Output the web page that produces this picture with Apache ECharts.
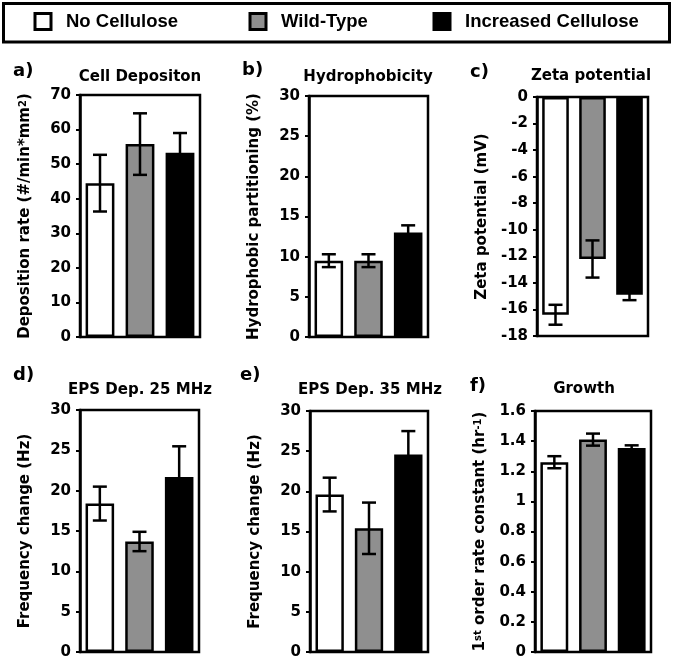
<!DOCTYPE html>
<html>
<head>
<meta charset="utf-8">
<script src="https://cdn.jsdelivr.net/npm/echarts@6/dist/echarts.min.js"></script>
<style>
html,body{margin:0;padding:0;background:#fff;}
#chart{width:675px;height:662px;}
</style>
</head>
<body>
<div id="chart"></div>
<script>
// ---- data ----
const categories = ['No Cellulose', 'Wild-Type', 'Increased Cellulose'];
const panelLetters = ['a)', 'b)', 'c)', 'd)', 'e)', 'f)'];
const panelTitles = ['Cell Depositon', 'Hydrophobicity', 'Zeta potential', 'EPS Dep. 25 MHz', 'EPS Dep. 35 MHz', 'Growth'];
const axisNames = [
  'Deposition rate (#/min*mm{sup|2})',
  'Hydrophobic partitioning (%)',
  'Zeta potential (mV)',
  'Frequency change (Hz)',
  'Frequency change (Hz)',
  '1{sup|st} order rate constant (hr{sup|-1})'
];
const yMin = [0, 0, -18, 0, 0, 0];
const yMax = [70, 30, 0, 30, 30, 1.6];
const yStep = [10, 5, 2, 5, 5, 0.2];

const noCellulose = [44.5, 9.5, -16.4, 18.4, 19.6, 1.26];
const wildType = [55.8, 9.5, -12.2, 13.7, 15.4, 1.41];
const increasedCellulose = [53.3, 13.0, -14.9, 21.7, 24.6, 1.355];

const noCelluloseErr = [8.2, 0.8, 0.75, 2.1, 2.1, 0.04];
const wildTypeErr = [8.9, 0.8, 1.4, 1.2, 3.2, 0.04];
const increasedCelluloseErr = [5.7, 0.9, 0.4, 3.8, 2.9, 0.017];

const seriesValues = [noCellulose, wildType, increasedCellulose];
const seriesErrs = [noCelluloseErr, wildTypeErr, increasedCelluloseErr];
const fills = ['#ffffff', '#8f8f8f', '#000000'];

// ---- layout ----
const grids = [
  {left: 80, top: 95, width: 120, height: 242},
  {left: 309, top: 96, width: 119, height: 241},
  {left: 537, top: 97, width: 111, height: 239},
  {left: 80, top: 410, width: 119, height: 242},
  {left: 310, top: 411, width: 118, height: 241},
  {left: 535, top: 411, width: 116, height: 241}
];
const letterPos = [[13, 71], [242, 70], [470, 72], [13, 375], [240, 375], [470, 386]];
const titlePos = [[140, 77], [368, 77], [591, 76], [140, 390], [370, 390], [584, 389]];

const FONT = 'DejaVu Sans';
const LW = 2.5;

const option = {
  backgroundColor: '#fff',
  animation: false,
  grid: [],
  xAxis: [],
  yAxis: [],
  series: [],
  legend: [],
  graphic: []
};

grids.forEach((g, k) => {
  option.grid.push(Object.assign({show: true, borderColor: '#000', borderWidth: LW, backgroundColor: '#fff', containLabel: false}, g));
  option.xAxis.push({
    type: 'category', gridIndex: k, data: categories,
    axisLine: {show: false}, axisTick: {show: false}, axisLabel: {show: false}, splitLine: {show: false}
  });
  option.yAxis.push({
    type: 'value', gridIndex: k, min: yMin[k], max: yMax[k], interval: yStep[k],
    axisLine: {show: true, lineStyle: {color: '#000', width: LW}},
    axisTick: {show: true, inside: false, length: 4, lineStyle: {color: '#000', width: 2}},
    axisLabel: {color: '#000', fontFamily: FONT, fontWeight: 'bold', fontSize: 15, margin: 9},
    splitLine: {show: false},
    name: axisNames[k], nameLocation: 'middle', nameRotate: 90, nameGap: 47,
    nameTextStyle: {
      color: '#000', fontFamily: FONT, fontWeight: 'bold', fontSize: 15,
      rich: {sup: {color: '#000', fontFamily: FONT, fontWeight: 'bold', fontSize: 10, verticalAlign: 'top'}}
    }
  });
  categories.forEach((c, i) => {
    const d = categories.map((_, j) => (j === i ? seriesValues[i][k] : '-'));
    option.series.push({
      type: 'bar', name: c, xAxisIndex: k, yAxisIndex: k, stack: 'p' + k,
      barCategoryGap: '28%', data: d,
      itemStyle: {color: fills[i], borderColor: '#000', borderWidth: LW},
      z: 2
    });
  });
  option.series.push({
    type: 'custom', xAxisIndex: k, yAxisIndex: k, z: 5,
    data: categories.map((_, i) => [i, seriesValues[i][k] - seriesErrs[i][k], seriesValues[i][k] + seriesErrs[i][k]]),
    renderItem: function (params, api) {
      const x = api.value(0);
      const lo = api.coord([x, api.value(1)]);
      const hi = api.coord([x, api.value(2)]);
      const w = 7;
      const st = {stroke: '#000', lineWidth: LW};
      return {type: 'group', children: [
        {type: 'line', shape: {x1: hi[0], y1: hi[1], x2: lo[0], y2: lo[1]}, style: st},
        {type: 'line', shape: {x1: hi[0] - w, y1: hi[1], x2: hi[0] + w, y2: hi[1]}, style: st},
        {type: 'line', shape: {x1: lo[0] - w, y1: lo[1], x2: lo[0] + w, y2: lo[1]}, style: st}
      ]};
    }
  });
  option.graphic.push({
    type: 'text', x: letterPos[k][0], y: letterPos[k][1],
    style: {text: panelLetters[k], fill: '#000', fontFamily: FONT, fontWeight: 'bold', fontSize: 18, align: 'left', verticalAlign: 'middle'}
  });
  option.graphic.push({
    type: 'text', x: titlePos[k][0], y: titlePos[k][1],
    style: {text: panelTitles[k], fill: '#000', fontFamily: FONT, fontWeight: 'bold', fontSize: 15, align: 'center', verticalAlign: 'middle'}
  });
});

// legend box
option.graphic.push({
  type: 'rect', shape: {x: 3.5, y: 3.5, width: 666, height: 38.5},
  style: {fill: 'none', stroke: '#000', lineWidth: 3}, z: 10
});

const legendLeft = [33.5, 248.5, 432.5];
categories.forEach((c, i) => {
  option.legend.push({
    data: [c], left: legendLeft[i], top: 12, padding: 0, selectedMode: false,
    icon: 'rect', itemWidth: 16, itemHeight: 16,
    itemStyle: {borderColor: '#000', borderWidth: 3},
    textStyle: {color: '#000', fontFamily: 'Liberation Sans', fontWeight: 'bold', fontSize: 18.5, padding: [0, 0, 0, 10]}
  });
});

const chart = echarts.init(document.getElementById('chart'), null, {renderer: 'canvas'});
chart.setOption(option);
</script>
</body>
</html>
